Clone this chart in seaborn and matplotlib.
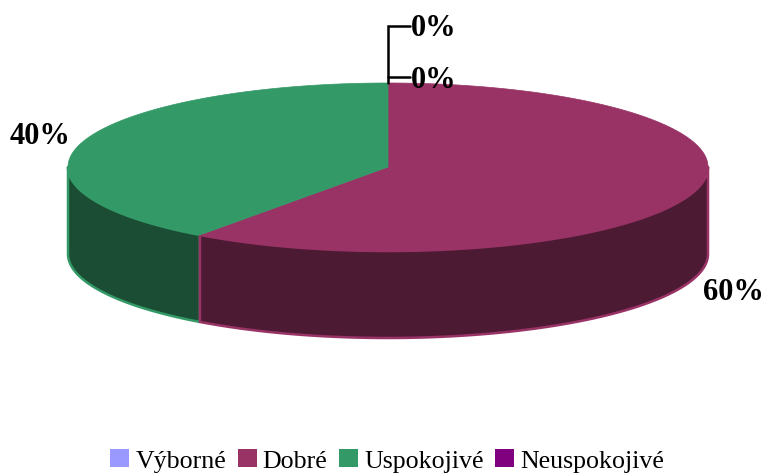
import numpy as np
import matplotlib
matplotlib.use("Agg")
import matplotlib.pyplot as plt
from matplotlib.patches import Patch, Polygon
import seaborn as sns

# Data
categories = ["Výborné", "Dobré", "Uspokojivé", "Neuspokojivé"]
values = [0, 60, 40, 0]
colors = ["#9999FF", "#993366", "#339966", "#800080"]
side_colors = ["#4D4D80", "#4D1A33", "#1A4D33", "#400040"]

# Pie geometry in image pixels
cx, cy = 388, 168
rx, ry = 320, 84
depth = 87


def rim(a0, a1):
    t = np.radians(np.linspace(a0, a1, 200))
    return cx + rx * np.sin(t), cy - ry * np.cos(t)


sns.set_theme(style="white")
plt.rcParams["font.family"] = ["Liberation Serif", "DejaVu Serif"]

fig, ax = plt.subplots(figsize=(7.63, 4.77), dpi=100)
ax.set_position([0, 0, 1, 1])
ax.set_xlim(0, 763)
ax.set_ylim(477, 0)
ax.axis("off")

# Slice angles, clockwise from the top
shares = np.array(values) / sum(values) * 360
ends = np.cumsum(shares)
starts = ends - shares

# Side walls: only the front half of the rim is visible
for i in np.argsort(-np.abs(starts + shares / 2 - 180)):
    a0, a1 = max(starts[i], 90), min(ends[i], 270)
    if shares[i] == 0 or a1 <= a0:
        continue
    x, y = rim(a0, a1)
    px = np.r_[x, x[::-1]]
    py = np.r_[y, y[::-1] + depth]
    ax.add_patch(Polygon(np.c_[px, py], closed=True, facecolor=side_colors[i],
                         edgecolor=colors[i], linewidth=1.8, joinstyle="round", zorder=2))

# Top faces
for i in range(len(values)):
    if shares[i] == 0:
        continue
    x, y = rim(starts[i], ends[i])
    ax.add_patch(Polygon(np.c_[np.r_[cx, x], np.r_[cy, y]], closed=True,
                         facecolor=colors[i], edgecolor=colors[i], linewidth=0.5, zorder=3))

# Leader lines for the empty slices
ax.plot([410, 388, 388], [27, 27, 84], color="black", lw=1.8, solid_joinstyle="miter", zorder=4)
ax.plot([388, 410], [78, 78], color="black", lw=1.8, zorder=4)

# Percent labels
label_pos = [(411, 29, "left"), (703, 293, "left"), (10, 137, "left"), (411, 81, "left")]
for v, (lx, ly, ha) in zip(values, label_pos):
    ax.text(lx, ly, f"{v}%", fontsize=22, fontweight="bold", color="black",
            ha=ha, va="center", zorder=5)

# Legend
handles = [Patch(facecolor=c, edgecolor="none") for c in colors]
ax.legend(handles, categories, loc="lower center", bbox_to_anchor=(0.5075, -0.024), ncol=4,
          frameon=False, fontsize=18.6, handlelength=0.74, handleheight=0.74,
          handletextpad=0.23, columnspacing=0.45, borderpad=0.1, labelcolor="black")

fig.savefig("out.png", dpi=100)
